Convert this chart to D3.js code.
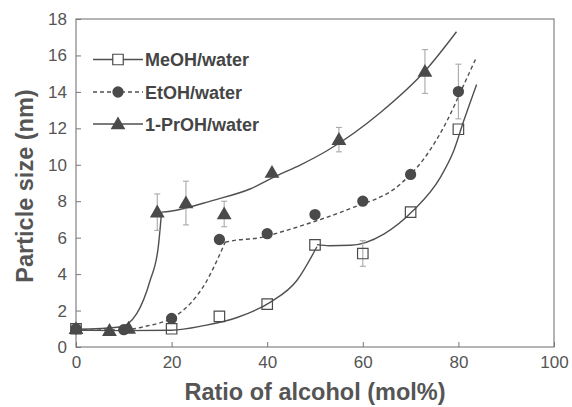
<!DOCTYPE html>
<html><head><meta charset="utf-8">
<script src="https://cdn.jsdelivr.net/npm/d3@7"></script>
<style>body{margin:0;background:#fff}svg{display:block}</style>
</head><body><svg id="c" width="572" height="407"></svg>
<script>
// ---- data ----
const xTicks = [0, 20, 40, 60, 80, 100];
const yTicks = [0, 2, 4, 6, 8, 10, 12, 14, 16, 18];
const seriesNames = ["MeOH/water", "EtOH/water", "1-PrOH/water"];

const meohX = [0, 20, 30, 40, 50, 60, 70, 80];
const meohY = [1.0, 1.0, 1.68, 2.35, 5.6, 5.13, 7.4, 11.95];
const meohErr = [0, 0, 0, 0, 0, 0.7, 0, 0];

const etohX = [0, 10, 20, 30, 40, 50, 60, 70, 80];
const etohY = [1.0, 0.95, 1.57, 5.9, 6.22, 7.27, 8.0, 9.47, 14.02];
const etohErr = [0, 0, 0, 0, 0, 0, 0, 0, 1.5];

const prohX = [0, 7, 11, 17, 23, 31, 41, 55, 73];
const prohY = [1.0, 0.9, 1.02, 7.4, 7.9, 7.3, 9.58, 11.38, 15.12];
const prohErr = [0, 0, 0, 1.0, 1.2, 0.7, 0, 0.67, 1.2];

// fitted curves, two pieces per series
const meohFit1X = [0, 10, 20, 26.7, 33.7, 40.6, 46.2, 50.4];
const meohFit1Y = [0.92, 0.9, 0.92, 1.17, 1.62, 2.45, 3.65, 5.5];
const meohFit2X = [50.4, 53, 57.4, 64.4, 70.6, 76.2, 79, 81.1, 83.8];
const meohFit2Y = [5.62, 5.56, 5.58, 6.2, 7.5, 9.3, 10.75, 12.4, 14.4];

const etohFit1X = [0, 10.3, 14.8, 20.4, 23.9, 27.4, 29.5, 31.2];
const etohFit1Y = [0.92, 0.95, 1.15, 1.64, 2.38, 3.65, 4.75, 5.75];
const etohFit2X = [31.2, 32.9, 38.5, 43.4, 50, 57.4, 67.9, 72.7, 77.6, 80.8, 83.6];
const etohFit2Y = [5.75, 5.84, 6.0, 6.35, 6.9, 7.6, 8.95, 10.3, 12.4, 14.2, 15.8];

const prohFit1X = [0, 9.2, 12.7, 15.5, 17.2, 17.9];
const prohFit1Y = [0.97, 1.1, 1.83, 3.65, 5.47, 7.39];
const prohFit2X = [17.9, 19.7, 28.7, 36.4, 42, 47, 52.5, 63.7, 73.2, 79.6];
const prohFit2Y = [7.4, 7.45, 8.05, 8.67, 9.4, 10.0, 10.77, 12.87, 15.2, 17.3];

// ---- chart ----
const svg = d3.select("#c");
const L = 76, R = 554, T = 19, B = 347;
const x = d3.scaleLinear().domain([0, 100]).range([L, R]);
const y = d3.scaleLinear().domain([0, 18]).range([B, T]);
const ink = "#4a4a4a", lineCol = "#505050", txt = "#555";
const font = "'Liberation Sans', Arial, Helvetica, sans-serif";

// axes
const gx = svg.append("g").attr("transform", `translate(0,${B})`)
  .call(d3.axisBottom(x).tickValues(xTicks).tickSizeInner(-5).tickSizeOuter(0).tickPadding(9));
const gy = svg.append("g").attr("transform", `translate(${L},0)`)
  .call(d3.axisLeft(y).tickValues(yTicks).tickSizeInner(-5).tickSizeOuter(0).tickPadding(9));
[gx, gy].forEach(g => {
  g.select(".domain").remove();
  g.selectAll(".tick line").attr("stroke", "#777").attr("stroke-width", 1);
  g.selectAll(".tick text").attr("fill", txt).style("font-family", font).style("font-size", "17px");
});
gx.selectAll(".tick text").attr("dy", "0.72em");

// frame
svg.append("rect").attr("x", L).attr("y", T).attr("width", R - L).attr("height", B - T)
  .attr("fill", "none").attr("stroke", "#777").attr("stroke-width", 1.1);

// axis titles
svg.append("text").attr("x", (L + R) / 2).attr("y", 400).attr("text-anchor", "middle")
  .attr("fill", txt).style("font-family", font).style("font-weight", "bold").style("font-size", "23.5px")
  .text("Ratio of alcohol (mol%)");
svg.append("text").attr("transform", "translate(33,186) rotate(-90)").attr("text-anchor", "middle")
  .attr("fill", txt).style("font-family", font).style("font-weight", "bold").style("font-size", "23.5px")
  .text("Particle size (nm)");

// fitted curves
const line = d3.line().x(d => x(d[0])).y(d => y(d[1])).curve(d3.curveMonotoneX);
const fits = [
  [meohFit1X, meohFit1Y, null], [meohFit2X, meohFit2Y, null],
  [etohFit1X, etohFit1Y, "4,3"], [etohFit2X, etohFit2Y, "4,3"],
  [prohFit1X, prohFit1Y, null], [prohFit2X, prohFit2Y, null]
];
fits.forEach(([xs, ys, dash]) => {
  svg.append("path").datum(xs.map((v, i) => [v, ys[i]])).attr("d", line)
    .attr("fill", "none").attr("stroke", lineCol).attr("stroke-width", 1.4)
    .attr("stroke-dasharray", dash);
});

// error bars
const errCol = "#a8a8a8";
[[meohX, meohY, meohErr], [etohX, etohY, etohErr], [prohX, prohY, prohErr]].forEach(([xs, ys, es]) => {
  xs.forEach((v, i) => {
    if (!es[i]) return;
    const g = svg.append("g").attr("stroke", errCol).attr("stroke-width", 1.1);
    const cx = x(v), y1 = y(ys[i] + es[i]), y2 = y(ys[i] - es[i]);
    g.append("line").attr("x1", cx).attr("x2", cx).attr("y1", y1).attr("y2", y2);
    g.append("line").attr("x1", cx - 3).attr("x2", cx + 3).attr("y1", y1).attr("y2", y1);
    g.append("line").attr("x1", cx - 3).attr("x2", cx + 3).attr("y1", y2).attr("y2", y2);
  });
});

// markers
const sqSym = d3.symbol().type(d3.symbolSquare).size(110);
const ciSym = d3.symbol().type(d3.symbolCircle).size(100);
const trSym = d3.symbol().type(d3.symbolTriangle).size(95);
function drawSquare(g, cx, cy) {
  g.append("path").attr("d", sqSym()).attr("transform", `translate(${cx},${cy})`)
    .attr("fill", "none").attr("stroke", ink).attr("stroke-width", 1.2);
}
function drawCircle(g, cx, cy) {
  g.append("path").attr("d", ciSym()).attr("transform", `translate(${cx},${cy})`).attr("fill", ink);
}
function drawTri(g, cx, cy) {
  g.append("path").attr("d", trSym()).attr("transform", `translate(${cx},${cy + 1})`).attr("fill", ink);
}
etohX.forEach((v, i) => drawCircle(svg, x(v), y(etohY[i])));
prohX.forEach((v, i) => drawTri(svg, x(v), y(prohY[i])));
meohX.forEach((v, i) => drawSquare(svg, x(v), y(meohY[i])));

// legend
const legY = [59.5, 92, 124];
const drawers = [drawSquare, drawCircle, drawTri];
const dashes = [null, "4,3", null];
seriesNames.forEach((name, i) => {
  const g = svg.append("g");
  g.append("line").attr("x1", 93).attr("x2", 143).attr("y1", legY[i]).attr("y2", legY[i])
    .attr("stroke", lineCol).attr("stroke-width", 1.4).attr("stroke-dasharray", dashes[i]);
  if (i === 0) g.append("rect").attr("x", 113).attr("y", legY[i] - 5).attr("width", 10).attr("height", 10).attr("fill", "#fff");
  drawers[i](g, 118, legY[i]);
  g.append("text").attr("x", 145).attr("y", legY[i] + 6.5).attr("fill", "#454545")
    .style("font-family", font).style("font-weight", "bold").style("font-size", "18px").text(name);
});
</script></body></html>
